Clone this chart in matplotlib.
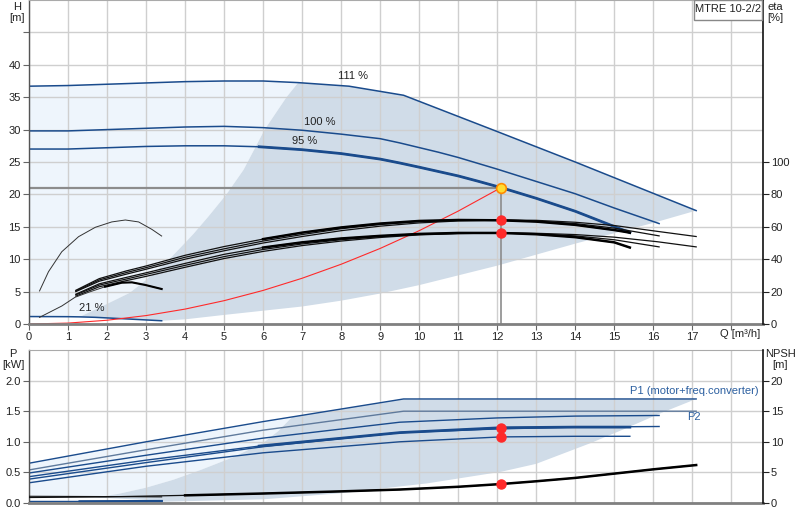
import numpy as np
import matplotlib
matplotlib.use("Agg")
import matplotlib.pyplot as plt
from matplotlib.patches import Rectangle

plt.rcParams['font.family'] = ['Liberation Sans', 'DejaVu Sans']

# ---------------- data: head curves (H in m) ----------------
Q111 = [0, 1, 2, 3, 4, 5, 6, 6.9, 8.2, 9.6, 12, 14, 17.1]
H111 = [36.7, 36.8, 37.0, 37.2, 37.4, 37.5, 37.5, 37.25, 36.7, 35.3, 29.7, 25.0, 17.5]
Q100 = [0, 1, 2, 3, 4, 5, 6, 7, 8, 9, 9.5, 10.5, 11, 12, 13, 14, 15, 16.15]
H100 = [29.8, 29.8, 30.0, 30.2, 30.4, 30.5, 30.3, 29.9, 29.3, 28.6, 27.95, 26.5, 25.7, 23.9, 22.0, 20.1, 17.9, 15.5]
Q95 = [0, 1, 2, 3, 4, 5, 5.9, 7, 8, 9, 9.5, 10, 11, 11.5, 12.1, 13, 14, 15.4]
H95 = [27.0, 27.0, 27.2, 27.4, 27.5, 27.5, 27.35, 26.9, 26.3, 25.45, 24.85, 24.2, 22.85, 22.05, 21.05, 19.4, 17.4, 14.1]
Q21 = [0, 1.0, 1.3, 1.7, 2.55, 3.4]
H21 = [1.15, 1.13, 1.1, 1.03, 0.77, 0.5]

# operating-range boundaries (H in m)
Q_bnd = [1.3, 2.0, 2.58, 3.0, 3.6, 4.2, 4.6, 5.06, 5.5, 6.04, 6.6, 6.9]
H_bnd = [1.1, 3.1, 4.8, 6.8, 10.0, 13.8, 16.6, 20.0, 23.8, 30.0, 35.0, 37.25]
Q_low = [3.4, 4, 5, 6, 7, 8, 9, 10, 12, 14, 16, 17.1]
H_low = [0.5, 0.72, 1.4, 2.05, 2.7, 3.6, 4.7, 6.0, 9.0, 12.4, 15.6, 17.5]

# system curve (red) and duty point
Q_sys = [0, 1, 2, 3, 4, 5, 6, 7, 8, 9, 10, 11, 12.1]
H_sys = [0, 0.14, 0.58, 1.30, 2.30, 3.60, 5.18, 7.06, 9.22, 11.66, 14.40, 17.42, 21.05]
Q_duty = 12.1
H_duty = 21.05

# ---------------- efficiency curves (eta in %) ----------------
Qe95 = [1.2, 1.8, 2.5, 3, 4, 5, 6, 7, 8, 9, 10, 11, 12.1, 13, 14, 15, 15.4]
Qe100 = [1.2, 1.8, 2.5, 3, 4, 5, 6, 7, 8, 9, 10, 11, 12.1, 13, 14, 15, 16.15]
Qe111 = [1.2, 1.8, 2.5, 3, 4, 5, 6, 7, 8, 9, 10, 11, 12.1, 13, 14, 15, 16.1, 17.1]
eta_p95 = [20.8, 28.0, 32.8, 35.8, 42.4, 47.8, 52.4, 56.4, 59.6, 62.0, 63.6, 64.2, 64.0, 63.2, 61.2, 58.0, 56.4]
eta_p100 = [20.4, 27.2, 31.8, 34.8, 41.2, 46.4, 51.2, 55.2, 58.8, 61.4, 63.2, 64.0, 64.2, 63.6, 62.0, 59.2, 54.4]
eta_p111 = [20.0, 26.4, 30.8, 33.8, 40.0, 45.2, 50.0, 54.0, 57.6, 60.4, 62.4, 63.6, 64.2, 64.0, 62.8, 60.8, 57.2, 54.0]
eta_t95 = [18.4, 24.8, 28.8, 31.6, 37.4, 43.0, 47.2, 50.4, 52.8, 54.4, 55.6, 56.2, 56.2, 55.4, 53.6, 50.4, 47.2]
eta_t100 = [18.0, 24.0, 27.8, 30.6, 36.2, 41.6, 46.0, 49.4, 52.0, 54.0, 55.4, 56.0, 56.2, 55.8, 54.4, 52.0, 47.6]
eta_t111 = [17.2, 23.0, 26.8, 29.4, 35.0, 40.4, 44.8, 48.4, 51.2, 53.4, 55.0, 55.8, 56.2, 56.0, 55.2, 53.6, 50.8, 47.6]
Qe21p = [0.27, 0.5, 0.84, 1.27, 1.7, 2.12, 2.47, 2.81, 3.15, 3.4]
eta_p21 = [20.4, 32.3, 44.6, 53.9, 59.7, 63.0, 64.2, 63.0, 58.4, 54.3]
Qe21t = [0.27, 0.84, 1.18, 1.53, 1.95, 2.38, 2.64, 2.98, 3.4]
eta_t21 = [4.1, 11.1, 16.5, 19.6, 23.0, 25.5, 25.7, 24.1, 21.6]
eta_duty_p = 64.0
eta_duty_t = 56.0

# ---------------- power curves (kW) ----------------
Qp111 = [0, 3, 6, 9.6, 17.1]
P1_111 = [0.65, 1.00, 1.33, 1.70, 1.70]
P2_111 = [0.54, 0.87, 1.19, 1.50, 1.50]
Qp100 = [0, 3, 6, 9.5, 12, 14, 16.15]
P1_100 = [0.49, 0.78, 1.06, 1.32, 1.39, 1.42, 1.43]
P2_100 = [0.39, 0.66, 0.92, 1.15, 1.21, 1.24, 1.25]
Qp95 = [0, 3, 5.9, 9.5, 12.1, 14, 15.4]
P1_95 = [0.43, 0.70, 0.93, 1.15, 1.23, 1.24, 1.24]
Qp95b = [0, 3, 6, 9.5, 12.1, 14, 15.4]
P2_95 = [0.33, 0.60, 0.82, 1.00, 1.08, 1.09, 1.09]
Qp21 = [0, 1.3, 3.4]
P_21 = [0.025, 0.025, 0.03]
P1_duty = 1.23
P2_duty = 1.08

# power-plot shaded boundaries (kW)
Qpb = [1.7, 2.3, 3.0, 3.7, 4.4, 5.2, 6.0, 6.4, 6.75]
Ppb = [0.09, 0.15, 0.25, 0.38, 0.54, 0.74, 0.98, 1.18, 1.41]
Qpl = [1.7, 3.0, 3.4, 6.0, 8, 9.5, 10.2, 12.1, 13, 14.4, 15.3, 16.2, 17.1]
Ppl = [0.09, 0.05, 0.02, 0.06, 0.16, 0.27, 0.32, 0.51, 0.64, 0.98, 1.22, 1.47, 1.70]
P_light_bottom = 0.09

# ---------------- NPSH (m) ----------------
Qn = [0, 2, 4, 6, 8, 9.5, 11, 12.1, 13, 14, 15, 16, 17.1]
NPSH = [0.9, 1.0, 1.25, 1.55, 1.9, 2.2, 2.65, 3.1, 3.55, 4.1, 4.8, 5.5, 6.2]
Qn21 = [0, 2, 3.4]
NPSH21 = [1.1, 1.05, 1.0]
NPSH_duty = 3.1

# ---------------- styling ----------------
BLUE = '#1a4b8c'
LIGHT = '#eef5fc'
DARK = '#d0dce8'
GRID = '#cfcfcf'
RED = '#ff2a2a'

fig = plt.figure(figsize=(8, 5.2), dpi=100)
L = 29 / 800
W = (762.5 - 29) / 800
ax1 = fig.add_axes([L, 1 - 324 / 520, W, 324 / 520])
ax2 = fig.add_axes([L, 1 - 503 / 520, W, (503 - 350) / 520])

XMAX = 18.8

def style(ax, ymax, yticks, ylabels):
    ax.set_xlim(0, XMAX)
    ax.set_ylim(0, ymax)
    ax.set_xticks(range(0, 19))
    ax.set_yticks(yticks)
    ax.set_yticklabels(ylabels)
    ax.set_axisbelow('line')
    ax.grid(True, color=GRID, lw=1.0)
    ax.tick_params(axis='both', labelsize=8, length=4, width=0.8, color='#666666',
                   labelcolor='#222222', pad=2)
    ax.spines['left'].set_color('#555555')
    ax.spines['left'].set_linewidth(1.0)
    ax.spines['bottom'].set_color('#808080')
    ax.spines['bottom'].set_linewidth(2.0)
    ax.spines['top'].set_color('#aaaaaa')
    ax.spines['right'].set_visible(False)

style(ax1, 50, list(range(0, 50, 5)), [str(v) if v <= 40 else '' for v in range(0, 50, 5)])
ax1.set_xticklabels([str(v) if v <= 17 else '' for v in range(0, 19)])
style(ax2, 2.5, [0, 0.5, 1.0, 1.5, 2.0], ['0.0', '0.5', '1.0', '1.5', '2.0'])
ax2.set_xticklabels([])
ax2.tick_params(axis='x', length=0)

# ---- top: shaded regions ----
xl = Q111[:8] + Q_bnd[::-1] + Q21[:3][::-1]
yl = H111[:8] + H_bnd[::-1] + H21[:3][::-1]
ax1.fill(xl, yl, color=LIGHT, lw=0, zorder=0.5)
xd = Q_bnd + Q111[7:] + Q_low[::-1] + Q21[2:][::-1]
yd = H_bnd + H111[7:] + H_low[::-1] + H21[2:][::-1]
ax1.fill(xd, yd, color=DARK, lw=0, zorder=0.6)

# reference lines
ax1.plot([0, Q_duty], [H_duty, H_duty], color='#8c8c8c', lw=1.6, zorder=1.8)
ax1.plot([Q_duty, Q_duty], [0, H_duty], color='#8c8c8c', lw=1.2, zorder=1.8)

# head curves
ax1.plot(Q111, H111, color=BLUE, lw=1.1)
ax1.plot(Q100, H100, color=BLUE, lw=1.1)
ax1.plot(Q95, H95, color=BLUE, lw=1.1)
i95 = Q95.index(5.9)
ax1.plot(Q95[i95:], H95[i95:], color=BLUE, lw=2.0)
ax1.plot(Q21, H21, color=BLUE, lw=1.1)
ax1.plot(Q_sys, H_sys, color=RED, lw=0.8)
ax1.plot([Q_duty], [H_duty], 'o', ms=7, mfc='#ffdd33', mec='#ff8a00', mew=1.2, zorder=5)

ax1.text(8.3, 38.2, '111 %', fontsize=8, ha='center', va='center', color='#222222')
ax1.text(7.45, 31.1, '100 %', fontsize=8, ha='center', va='center', color='#222222')
ax1.text(7.06, 28.3, '95 %', fontsize=8, ha='center', va='center', color='#222222')
ax1.text(1.6, 2.5, '21 %', fontsize=8, ha='center', va='center', color='#222222')

# eta twin axis
axe = ax1.twinx()
axe.set_ylim(0, 200)
axe.set_xlim(0, XMAX)
axe.set_yticks([0, 20, 40, 60, 80, 100])
axe.tick_params(axis='y', labelsize=8, length=4, width=0.8, color='#222222',
                labelcolor='#222222', pad=2)
for s in ['left', 'top', 'bottom']:
    axe.spines[s].set_visible(False)
axe.spines['right'].set_color('#111111')
axe.spines['right'].set_linewidth(1.2)

for q, e in [(Qe111, eta_p111), (Qe100, eta_p100), (Qe95, eta_p95),
             (Qe111, eta_t111), (Qe100, eta_t100), (Qe95, eta_t95)]:
    axe.plot(q, e, color='#111111', lw=0.9)
j = Qe95.index(6)
axe.plot(Qe95[j:], eta_p95[j:], color='#000000', lw=1.8)
axe.plot(Qe95[j:], eta_t95[j:], color='#000000', lw=1.8)
axe.plot(Qe21p, eta_p21, color='#333333', lw=0.7)
axe.plot(Qe21t, eta_t21, color='#333333', lw=0.7)
k = Qe21t.index(1.95)
axe.plot(Qe21t[k:], eta_t21[k:], color='#000000', lw=1.5)
axe.plot([Q_duty, Q_duty], [eta_duty_p, eta_duty_t], 'o', ms=6.5, color=RED, lw=0, zorder=5)

# ---- bottom: shaded regions ----
i_top = [q for q in Qp111 if q <= 6]
xlp = [0] + i_top + [Qpb[-1]] + Qpb[::-1] + [0]
ylp = [P_light_bottom] + P1_111[:len(i_top)] + [Ppb[-1]] + Ppb[::-1] + [P_light_bottom]
ax2.fill(xlp, ylp, color=LIGHT, lw=0, zorder=0.5)
xdp = Qpb + [9.6, 17.1] + Qpl[::-1]
ydp = Ppb + [1.70, 1.70] + Ppl[::-1]
ax2.fill(xdp, ydp, color=DARK, lw=0, zorder=0.6)

ax2.plot(Qp111, P1_111, color=BLUE, lw=1.0)
ax2.plot(Qp111, P2_111, color='#5f7a9c', lw=1.0)
ax2.plot(Qp100, P1_100, color=BLUE, lw=1.0)
ax2.plot(Qp100, P2_100, color=BLUE, lw=1.0)
ax2.plot(Qp95, P1_95, color=BLUE, lw=1.0)
ax2.plot(Qp95[2:], P1_95[2:], color=BLUE, lw=2.0)
ax2.plot(Qp95b, P2_95, color=BLUE, lw=1.0)
ax2.plot(Qp21, P_21, color=BLUE, lw=1.0)
ax2.plot(Qp21[1:], P_21[1:], color=BLUE, lw=1.8)
ax2.plot([Q_duty, Q_duty], [P1_duty, P2_duty], 'o', ms=6.5, color=RED, lw=0, zorder=5)
ax2.text(17.06, 1.83, 'P1 (motor+freq.converter)', fontsize=8, ha='center', va='center',
         color='#2b5fa0')
ax2.text(17.05, 1.40, 'P2', fontsize=8, ha='center', va='center', color='#2b5fa0')

axn = ax2.twinx()
axn.set_ylim(0, 25)
axn.set_xlim(0, XMAX)
axn.set_yticks([0, 5, 10, 15, 20])
axn.tick_params(axis='y', labelsize=8, length=4, width=0.8, color='#222222',
                labelcolor='#222222', pad=2)
for s in ['left', 'top', 'bottom']:
    axn.spines[s].set_visible(False)
axn.spines['right'].set_color('#111111')
axn.spines['right'].set_linewidth(1.2)
axn.plot(Qn21, NPSH21, color='#111111', lw=0.8)
axn.plot(Qn, NPSH, color='#111111', lw=0.9)
axn.plot(Qn[2:], NPSH[2:], color='#000000', lw=1.8)
axn.plot([Q_duty], [NPSH_duty], 'o', ms=6.5, color=RED, zorder=5)

# ---- labels ----
fig.text(17 / 800, 1 - 2 / 520, 'H\n[m]', fontsize=8, ha='center', va='top', linespacing=1.15,
         color='#222222')
fig.text(775 / 800, 1 - 2 / 520, 'eta\n[%]', fontsize=8, ha='center', va='top', linespacing=1.15,
         color='#222222')
fig.text(13 / 800, 1 - 349 / 520, 'P\n[kW]', fontsize=8, ha='center', va='top', linespacing=1.15,
         color='#222222')
fig.text(780 / 800, 1 - 349 / 520, 'NPSH\n[m]', fontsize=8, ha='center', va='top', linespacing=1.15,
         color='#222222')
fig.text(740 / 800, 1 - 334 / 520, 'Q [m³/h]', fontsize=8, ha='center', va='center', color='#222222')

box_x0 = (694 - 29) / 733.5
axe.add_patch(Rectangle((box_x0, 1 - 19.5 / 324), 1 - box_x0 - 0.001, 19.5 / 324,
                        transform=axe.transAxes, clip_on=False, fc='white', ec='#888888',
                        lw=1.0, zorder=10))
axe.text((box_x0 + 1) / 2, 1 - 9.5 / 324, 'MTRE 10-2/2', transform=axe.transAxes, fontsize=8,
         ha='center', va='center', color='#222222', zorder=11)

fig.savefig('out.png', dpi=100)
